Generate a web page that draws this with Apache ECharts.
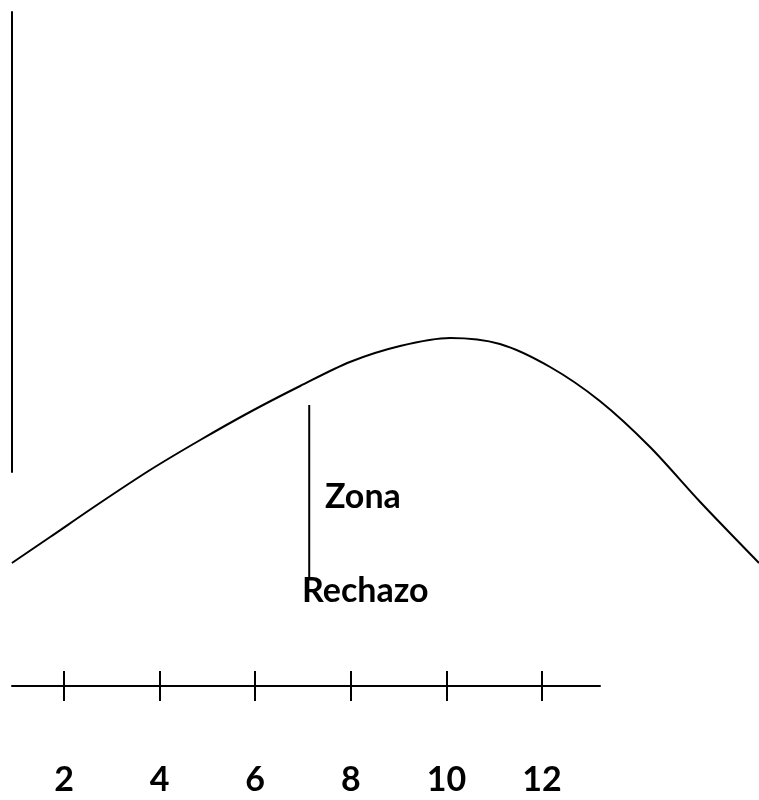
<!DOCTYPE html>
<html>
<head>
<meta charset="utf-8">
<script src="https://cdn.jsdelivr.net/npm/echarts@6.0.0/dist/echarts.min.js"></script>
<style>
	html, body { margin: 0; padding: 0; background: #fff; }
	#main { width: 759px; height: 800px; }
</style>
</head>
<body>
<div id="main"></div>
<script>
// number line ticks / labels
let tickValues = [2, 4, 6, 8, 10, 12];

// curve (x in axis units, y = height above the number line)
let curveX = [0.91, 1.71, 2.75, 3.80, 4.85, 5.89, 6.94, 7.98, 9.03, 10.08, 11.12, 12.17, 13.21, 14.26, 15.31, 16.54];
let curveY = [1.23, 1.49, 1.83, 2.16, 2.46, 2.74, 3.00, 3.24, 3.40, 3.48, 3.42, 3.19, 2.85, 2.39, 1.84, 1.23];

// vertical line marking the rejection zone
let zoneLineX = [7.13, 7.13];
let zoneLineY = [2.81, 1.07];

let zoneLabels = ['Zona', 'Rechazo'];

let xMin = 0.912;
let unitPx = 47.8;

let chartDom = document.getElementById('main');
let myChart = echarts.init(chartDom);

let curveData = curveX.map((x, i) => [x, curveY[i]]);
let zoneData = zoneLineX.map((x, i) => [x, zoneLineY[i]]);

let textStyle = {
	fontFamily: 'Lato',
	fontWeight: 'bold',
	fontSize: 34,
	fill: '#000'
};

let option = {
	animation: false,
	backgroundColor: '#fff',
	grid: [
		{ left: 12, right: 0, top: 12, bottom: 114 },
		{ left: 12, width: 588, top: 12, bottom: 114 },
		{ left: 12, width: 50, top: 12, height: 460 }
	],
	xAxis: [
		{ gridIndex: 0, type: 'value', min: xMin, max: xMin + 747 / unitPx, show: false },
		{
			gridIndex: 1, type: 'value', position: 'bottom',
			min: xMin, max: xMin + 588 / unitPx,
			axisLine: { show: true, lineStyle: { color: '#000', width: 2 } },
			axisTick: { show: true, length: 15, lineStyle: { color: '#000', width: 2 }, customValues: tickValues },
			axisLabel: {
				show: true, customValues: tickValues, margin: 94, verticalAlign: 'middle',
				color: '#000', fontFamily: 'Lato', fontWeight: 'bold', fontSize: 34
			},
			splitLine: { show: false }
		},
		{
			gridIndex: 1, type: 'value', position: 'bottom',
			min: xMin, max: xMin + 588 / unitPx,
			axisLine: { show: false },
			axisTick: { show: true, inside: true, length: 15, lineStyle: { color: '#000', width: 2 }, customValues: tickValues },
			axisLabel: { show: false },
			splitLine: { show: false }
		},
		{ gridIndex: 2, type: 'value', show: false }
	],
	yAxis: [
		{ gridIndex: 0, type: 'value', min: 0, max: 6.74, show: false },
		{ gridIndex: 1, type: 'value', min: 0, max: 6.74, show: false },
		{
			gridIndex: 2, type: 'value', min: 0, max: 1,
			axisLine: { show: true, lineStyle: { color: '#000', width: 2 } },
			axisTick: { show: false },
			axisLabel: { show: false },
			splitLine: { show: false }
		}
	],
	series: [
		{
			type: 'line',
			xAxisIndex: 0,
			yAxisIndex: 0,
			data: curveData,
			smooth: 0.3,
			showSymbol: false,
			clip: false,
			lineStyle: { color: '#000', width: 2 }
		},
		{
			type: 'line',
			xAxisIndex: 0,
			yAxisIndex: 0,
			data: zoneData,
			showSymbol: false,
			clip: false,
			lineStyle: { color: '#000', width: 2 }
		}
	],
	graphic: [
		{ type: 'text', x: 325, y: 497, style: Object.assign({ text: zoneLabels[0], verticalAlign: 'middle' }, textStyle) },
		{ type: 'text', x: 302, y: 591, style: Object.assign({ text: zoneLabels[1], verticalAlign: 'middle' }, textStyle) }
	]
};

myChart.setOption(option);
</script>
</body>
</html>
